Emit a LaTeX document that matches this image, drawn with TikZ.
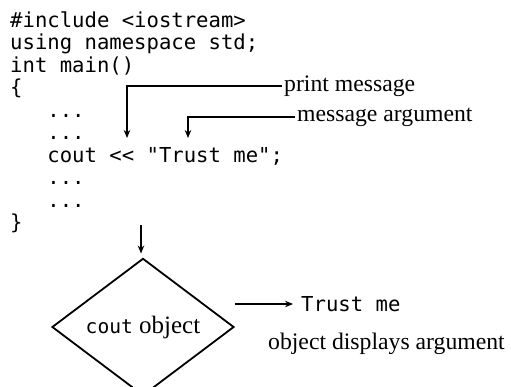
\documentclass[tikz,border=0pt]{standalone}
\usepackage{fontspec}
\setmainfont{Liberation Serif}
\setmonofont{DejaVu Sans Mono}
\usetikzlibrary{arrows.meta,shapes.geometric}

\begin{document}
\begin{tikzpicture}[x=1pt,y=-1pt,
    >={Stealth[length=8pt,width=6.5pt]},
    codeline/.style={anchor=base west,inner sep=0pt,font=\ttfamily\fontsize{20.6}{22.5}\selectfont},
    note/.style={anchor=west,inner sep=2pt,font=\fontsize{23.7}{26}\selectfont},
    pointer/.style={->,line width=1.2pt},
    objbox/.style={draw,diamond,line width=1.8pt,inner sep=0pt,minimum width=182pt,minimum height=112pt,font=\fontsize{25}{27}\selectfont}]
        \useasboundingbox (0,0) rectangle (511,386);
        \node[codeline] (include) at (10,27) {\#include <iostream>};
        \node[codeline] (using) at (10,49.5) {using namespace std;};
        \node[codeline] (main) at (10,72) {int main()};
        \node[codeline] (open) at (10,94.5) {\{};
        \node[codeline] (dotsa) at (47.2,117) {...};
        \node[codeline] (dotsb) at (47.2,139.5) {...};
        \node[codeline] (cout) at (47.2,162) {cout << "Trust me";};
        \node[codeline] (dotsc) at (47.2,184.5) {...};
        \node[codeline] (dotsd) at (47.2,207) {...};
        \node[codeline] (close) at (10,229.5) {\}};
        \coordinate (insertop) at (127,138);
        \coordinate (argtip) at (188,138);
        \node[note] (printmsg) at (282,86) {print message};
        \draw[pointer] (printmsg.west) -| (insertop);
        \node[note] (msgarg) at (295,117) {message argument};
        \draw[pointer] (msgarg.west) -| (argtip);
        \node[objbox] (cobj) at (143,327) {{\ttfamily\fontsize{19.6}{20}\selectfont cout} object};
        \coordinate (flow) at (141,225);
        \draw[pointer, shorten >=4pt] (flow) -- (flow |- cobj.north);
        \node[codeline, anchor=west] (trust) at (301,304) {Trust me};
        \draw[pointer] (trust.west -| cobj.east) -- ([xshift=-8pt]trust.west);
        \node[note, anchor=base west] (explain) at (266,349) {object displays argument};
    \end{tikzpicture}
\end{document}
